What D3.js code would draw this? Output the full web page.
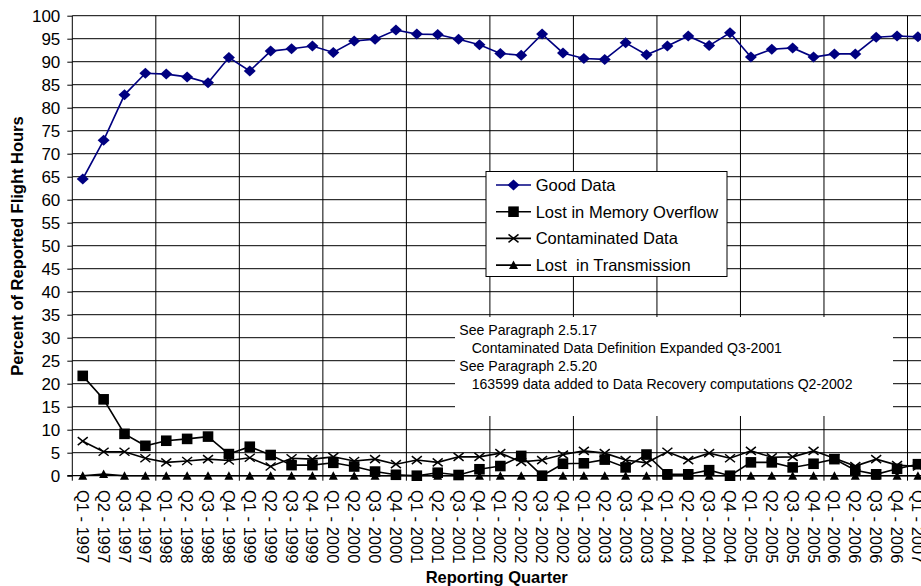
<!DOCTYPE html>
<html><head><meta charset="utf-8">
<script src="https://cdn.jsdelivr.net/npm/d3@7/dist/d3.min.js"></script>
<style>body{margin:0;background:#fff}svg{display:block}text{font-family:"Liberation Sans",Arial,sans-serif;white-space:pre}</style>
</head><body>
<svg id="c" width="921" height="586"></svg>
<script>
const categories = ["Q1 - 1997","Q2 - 1997","Q3 - 1997","Q4 - 1997",
"Q1 - 1998","Q2 - 1998","Q3 - 1998","Q4 - 1998",
"Q1 - 1999","Q2 - 1999","Q3 - 1999","Q4 - 1999",
"Q1 - 2000","Q2 - 2000","Q3 - 2000","Q4 - 2000",
"Q1 - 2001","Q2 - 2001","Q3 - 2001","Q4 - 2001",
"Q1 - 2002","Q2 - 2002","Q3 - 2002","Q4 - 2002",
"Q1 - 2003","Q2 - 2003","Q3 - 2003","Q4 - 2003",
"Q1 - 2004","Q2 - 2004","Q3 - 2004","Q4 - 2004",
"Q1 - 2005","Q2 - 2005","Q3 - 2005","Q4 - 2005",
"Q1 - 2006","Q2 - 2006","Q3 - 2006","Q4 - 2006",
"Q1 - 2007"];
const goodData = [64.5,72.9,82.8,87.5,87.3,86.7,85.4,90.9,88.0,92.3,92.8,93.4,
92.0,94.5,94.9,96.9,96.0,95.9,94.9,93.7,91.8,91.4,96.0,91.9,90.7,90.5,
94.1,91.5,93.4,95.6,93.5,96.3,91.0,92.7,93.0,91.0,91.7,91.7,95.3,95.6,95.4];
const memoryOverflow = [21.7,16.6,9.1,6.5,7.6,8.0,8.5,4.7,6.3,4.5,2.3,2.3,
2.8,2.0,0.9,0.2,0.0,0.65,0.15,1.4,2.1,4.3,0.0,2.6,2.7,3.5,1.8,4.6,
0.3,0.3,1.2,0.0,2.9,2.9,1.8,2.6,3.6,1.2,0.3,1.5,2.5];
const contaminated = [7.5,5.2,5.2,3.8,2.9,3.2,3.6,3.3,3.9,2.0,3.8,3.6,
4.1,3.2,3.6,2.5,3.4,2.9,4.1,4.1,4.9,3.0,3.4,4.6,5.4,4.9,3.4,2.8,
5.2,3.4,4.9,3.8,5.4,4.0,4.1,5.4,3.8,2.1,3.6,2.3,2.0];
const transmission = [0,0.35,0,0,0,0,0,0,0,0,0,0,0,0,0,0,0,0,0,0,0,0,0,0,0,0,0,0,0,0,0,0,0,0,0,0,0,0,0,0,0];
const yTicks = [0,5,10,15,20,25,30,35,40,45,50,55,60,65,70,75,80,85,90,95,100];
const seriesNames = ["Good Data","Lost in Memory Overflow","Contaminated Data","Lost  in Transmission"];
const notes = ["See Paragraph 2.5.17","Contaminated Data Definition Expanded Q3-2001","See Paragraph 2.5.20","163599 data added to Data Recovery computations Q2-2002"];

const svg = d3.select("#c");
const pL = 72.3, pT = 15.7, pB = 475.7, step = 20.88;
const x = d3.scaleBand().domain(categories).range([pL, pL + step*categories.length]).padding(0);
const y = d3.scaleLinear().domain([0,100]).range([pB, pT]);
const cx = c => x(c) + x.bandwidth()/2;
const pR = pL + step*categories.length;

// horizontal gridlines
svg.append("g").selectAll("line").data(yTicks.filter(t=>t>0)).join("line")
  .attr("x1", pL).attr("x2", pR).attr("y1", d=>y(d)).attr("y2", d=>y(d))
  .attr("stroke","#000").attr("stroke-width",1);
// vertical gridlines every 4 categories
const vIdx = categories.map((c,i)=>i).filter(i=>i>0 && i%4===0);
svg.append("g").selectAll("line").data(vIdx).join("line")
  .attr("x1", i=>x(categories[i])).attr("x2", i=>x(categories[i]))
  .attr("y1", pT).attr("y2", pB+5)
  .attr("stroke","#000").attr("stroke-width",1);

// y axis
const yAxis = d3.axisLeft(y).tickValues(yTicks).tickSize(5).tickPadding(7);
const ga = svg.append("g").attr("transform",`translate(${pL},0)`).call(yAxis);
ga.select(".domain").remove();
ga.selectAll("text").attr("font-size",17).attr("fill","#000").style("font-family",'"Liberation Sans",Arial,sans-serif');
ga.selectAll(".tick line").attr("stroke","#000");
svg.append("line").attr("x1",pL).attr("x2",pL).attr("y1",pT).attr("y2",pB+5).attr("stroke","#000");
svg.append("line").attr("x1",pL-5).attr("x2",pR).attr("y1",pB).attr("y2",pB).attr("stroke","#000").attr("stroke-width",1.3);

// x labels
svg.append("g").selectAll("text").data(categories).join("text")
  .attr("transform", d=>`translate(${cx(d)},490) rotate(90)`)
  .attr("dominant-baseline","central").attr("font-size",16.5).attr("fill","#000")
  .text(d=>d);

// annotation box
svg.append("rect").attr("x",455).attr("y",317).attr("width",438).attr("height",99).attr("fill","#fff");
svg.append("g").selectAll("text").data(notes).join("text")
  .attr("x",(d,i)=> i%2===0 ? 459.3 : 471.7)
  .attr("y",(d,i)=>[330,347.5,365.5,384][i])
  .attr("dominant-baseline","central").attr("font-size",14.1).attr("fill","#000").text(d=>d);

// series
const line = d3.line().x((d,i)=>cx(categories[i])).y(d=>y(d));
const diamondPath = "M0,-5.5L6,0L0,5.5L-6,0Z";
const crossPath = "M-5,-4L5,4M-5,4L5,-4";
function drawSeries(vals, color, markerFn){
  const g = svg.append("g");
  g.append("path").datum(vals).attr("d",line).attr("fill","none").attr("stroke",color).attr("stroke-width",1.6);
  g.selectAll(".m").data(vals).join("path").attr("class","m")
    .attr("transform",(d,i)=>`translate(${cx(categories[i])},${y(d)})`)
    .each(function(){ markerFn(d3.select(this)); });
}
const diamond = s=>s.attr("d",diamondPath).attr("fill","#000080");
const square = s=>s.attr("d","M-5.3,-5.3H5.3V5.3H-5.3Z").attr("fill","#000");
const cross = s=>s.attr("d",crossPath).attr("fill","none").attr("stroke","#000").attr("stroke-width",1.5);
const tri = s=>s.attr("d","M0,-4.5L4.5,4L-4.5,4Z").attr("fill","#000");
drawSeries(transmission,"#000",tri);
drawSeries(contaminated,"#000",cross);
drawSeries(memoryOverflow,"#000",square);
drawSeries(goodData,"#000080",diamond);

// legend
const lg = svg.append("g");
lg.append("rect").attr("x",486).attr("y",171.5).attr("width",241).attr("height",105).attr("fill","#fff").attr("stroke","#000");
const lColors = ["#000080","#000","#000","#000"];
const lMarkers = [diamond,square,cross,tri];
seriesNames.forEach((n,i)=>{
  const yy = 185 + i*26.7;
  lg.append("line").attr("x1",496).attr("x2",531).attr("y1",yy).attr("y2",yy).attr("stroke",lColors[i]).attr("stroke-width",1.6);
  const m = lg.append("path").attr("transform",`translate(513.5,${yy})`);
  lMarkers[i](m);
  lg.append("text").attr("x",535.7).attr("y",yy).attr("dominant-baseline","central").attr("font-size",16.5).attr("fill","#000").text(n);
});

// axis titles
svg.append("text").attr("x",496.7).attr("y",577).attr("text-anchor","middle").attr("dominant-baseline","central")
  .attr("font-size",16.5).attr("font-weight","bold").attr("fill","#000").text("Reporting Quarter");
svg.append("text").attr("transform","translate(17,246) rotate(-90)").attr("text-anchor","middle").attr("dominant-baseline","central")
  .attr("font-size",16.5).attr("font-weight","bold").attr("fill","#000").text("Percent of Reported Flight Hours");
</script>
</body></html>
